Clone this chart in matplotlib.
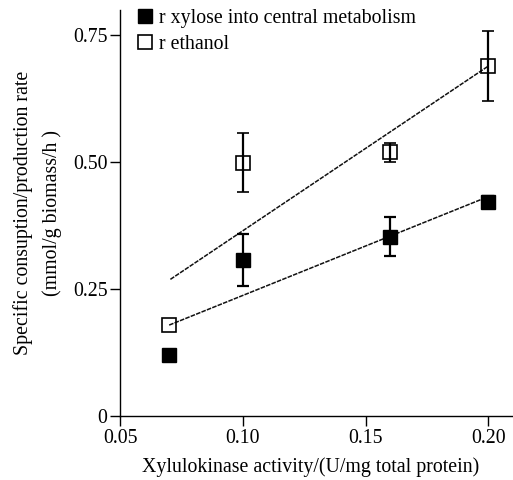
import matplotlib
matplotlib.use("Agg")
import matplotlib.pyplot as plt
from matplotlib.lines import Line2D

# Data
activity = [0.07, 0.10, 0.16, 0.20]
r_xylose = [0.120, 0.307, 0.353, 0.422]
r_xylose_err = [float('nan'), 0.052, 0.038, 0.012]
r_ethanol = [0.179, 0.499, 0.519, 0.689]
r_ethanol_err = [float('nan'), 0.058, 0.019, 0.069]

fit_xylose_x = [0.07, 0.20]
fit_xylose_y = [0.179, 0.432]
fit_ethanol_x = [0.0705, 0.20]
fit_ethanol_y = [0.269, 0.689]

xticks = [0.05, 0.10, 0.15, 0.20]
xticklabels = ["0.05", "0.10", "0.15", "0.20"]
yticks = [0, 0.25, 0.50, 0.75]
yticklabels = ["0", "0.25", "0.50", "0.75"]
labels = ['r xylose into central metabolism', 'r ethanol']

plt.rcParams['font.family'] = ['Liberation Serif', 'DejaVu Serif']
FS = 14.3

fig = plt.figure(figsize=(5.13, 4.8), dpi=100)
ax = fig.add_axes([0.234, 0.1333, 0.766, 0.8467])

ax.plot(fit_xylose_x, fit_xylose_y, color='#111111', lw=1.1, ls=(0, (3, 0.8)), zorder=2)
ax.plot(fit_ethanol_x, fit_ethanol_y, color='#111111', lw=1.1, ls=(0, (3, 0.8)), zorder=2)

ax.errorbar(activity, r_xylose, yerr=r_xylose_err, fmt='s', color='black',
            mfc='black', mec='black', ms=10, elinewidth=1.6, capsize=4.5,
            capthick=1.6, zorder=3)
ax.errorbar(activity, r_ethanol, yerr=r_ethanol_err, fmt='s', color='black',
            mfc='none', mec='black', mew=1.2, ms=9.5, elinewidth=1.6, capsize=4.5,
            capthick=1.6, zorder=3)

ax.set_xlim(0.05, 0.210)
ax.set_ylim(0, 0.80)
ax.set_xticks(xticks)
ax.set_xticklabels(xticklabels)
ax.set_yticks(yticks)
ax.set_yticklabels(yticklabels)
ax.tick_params(direction='out', length=7, width=1, labelsize=FS, pad=2)
for s in ['top', 'right']:
    ax.spines[s].set_visible(False)
for s in ['left', 'bottom']:
    ax.spines[s].set_linewidth(1.0)

ax.set_xlabel('Xylulokinase activity/(U/mg total protein)', fontsize=FS, labelpad=7)
ax.xaxis.label.set_x(0.485)
ax.set_ylabel('Specific consuption/production rate\n(mmol/g biomass/h )', fontsize=FS,
              labelpad=8, linespacing=1.6)

h1 = Line2D([], [], marker='s', ls='none', color='black', mfc='black', ms=10)
h2 = Line2D([], [], marker='s', ls='none', color='black', mfc='none', mew=1.2, ms=10)
ax.legend([h1, h2], labels, loc='upper left', bbox_to_anchor=(0.022, 1.02),
          frameon=False, fontsize=FS, handlelength=0.8, handletextpad=0.35,
          labelspacing=0.35, borderaxespad=0)

fig.savefig('out.png', dpi=100)
